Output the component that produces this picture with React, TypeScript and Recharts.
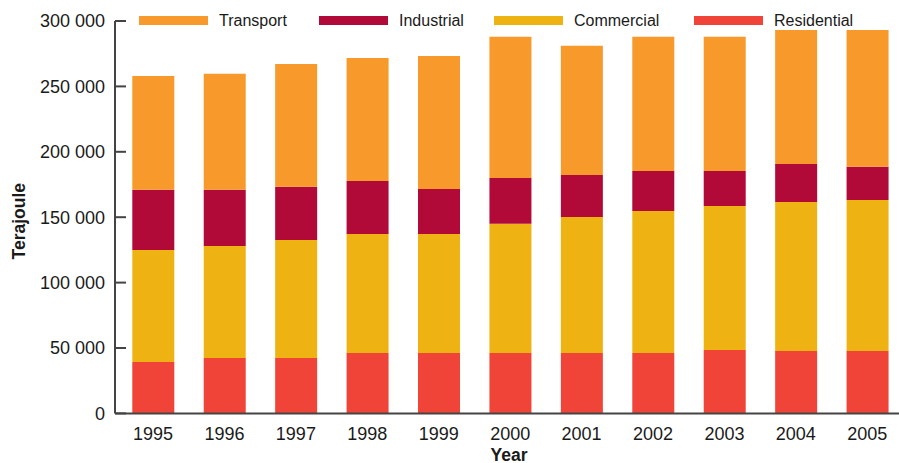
import React from 'react';
import { BarChart, Bar, XAxis, YAxis, Legend, Label } from 'recharts';

const years = ['1995', '1996', '1997', '1998', '1999', '2000', '2001', '2002', '2003', '2004', '2005'];
const residential = [39300, 42400, 42400, 46200, 46200, 46200, 46200, 46200, 48500, 47700, 47700];
const commercial = [85700, 85600, 90200, 91000, 91000, 98700, 104000, 108600, 110100, 114000, 115500];
const industrial = [45900, 42900, 40600, 40500, 34400, 35100, 32100, 30600, 26800, 29000, 25300];
const transport = [87100, 88700, 94000, 94100, 101700, 107900, 98700, 102500, 102500, 102500, 104700];
const yTicks = [0, 50000, 100000, 150000, 200000, 250000, 300000];

const legendOrder = ['Transport', 'Industrial', 'Commercial', 'Residential'];
const colors: Record<string, string> = {
  Transport: '#F7992B',
  Industrial: '#B20A38',
  Commercial: '#EEB313',
  Residential: '#F04438',
};

const data = years.map((year, i) => ({
  year,
  Residential: residential[i],
  Commercial: commercial[i],
  Industrial: industrial[i],
  Transport: transport[i],
}));

const FONT = '"Liberation Sans", Arial, sans-serif';
const TEXT = '#1a1a1a';
const AXIS = '#444';

// 300000 -> "300 000"
const fmt = (v: number) => String(v).replace(/\B(?=(\d{3})+(?!\d))/g, ' ');

const YTick = (props: any) => {
  const { x, y, payload } = props;
  return (
    <g>
      <line x1={x} x2={x + 11} y1={y} y2={y} stroke={AXIS} strokeWidth={2} />
      <text x={x - 10} y={y} dy="0.36em" textAnchor="end" fill={TEXT} fontSize={18} fontFamily={FONT}>
        {fmt(payload.value)}
      </text>
    </g>
  );
};

const XTick = (props: any) => {
  const { x, y, payload } = props;
  return (
    <text x={x} y={y + 26.6} textAnchor="middle" fill={TEXT} fontSize={18} fontFamily={FONT}>
      {payload.value}
    </text>
  );
};

const legendX = [139, 319, 494, 694];

const renderLegend = () => (
  <div style={{ position: 'relative', width: 903, height: 40, fontFamily: FONT }}>
    {legendOrder.map((name, i) => (
      <div
        key={name}
        style={{ position: 'absolute', left: legendX[i], top: 11, height: 19, display: 'flex', alignItems: 'center' }}
      >
        <span style={{ display: 'inline-block', width: 69, height: 9, background: colors[name], marginRight: 11 }} />
        <span style={{ fontSize: 16, color: TEXT, whiteSpace: 'nowrap' }}>{name}</span>
      </div>
    ))}
  </div>
);

const App: React.FC = () => {
  return (
    <div style={{ position: 'fixed', left: 0, top: 0, width: 899, height: 463, overflow: 'hidden', background: '#fff' }}>
      <BarChart
        width={903}
        height={463}
        data={data}
        margin={{ top: 21, right: 0, left: 0, bottom: 20 }}
        barSize={42}
      >
        <XAxis
          dataKey="year"
          interval={0}
          height={29.6}
          padding={{ left: 2.3, right: 0 }}
          axisLine={{ stroke: AXIS, strokeWidth: 2 }}
          tickLine={false}
          tickSize={0}
          tickMargin={0}
          tick={<XTick />}
        >
          <Label
            content={(p: any) => (
              <text
                x={p.viewBox.x + p.viewBox.width / 2}
                y={460.5}
                textAnchor="middle"
                fill={TEXT}
                fontSize={17.5}
                fontWeight="bold"
                fontFamily={FONT}
              >
                Year
              </text>
            )}
          />
        </XAxis>
        <YAxis
          width={115}
          domain={[0, 300000]}
          ticks={yTicks}
          interval={0}
          axisLine={{ stroke: AXIS, strokeWidth: 2 }}
          tickLine={false}
          tickSize={0}
          tickMargin={0}
          tick={<YTick />}
        >
          <Label
            content={(p: any) => (
              <text
                x={19.5}
                y={p.viewBox.y + p.viewBox.height / 2 + 4}
                transform={`rotate(-90, 19.5, ${p.viewBox.y + p.viewBox.height / 2 + 4})`}
                textAnchor="middle"
                dominantBaseline="central"
                fill={TEXT}
                fontSize={17.5}
                fontWeight="bold"
                fontFamily={FONT}
              >
                Terajoule
              </text>
            )}
          />
        </YAxis>
        <Legend
          layout="horizontal"
          verticalAlign="middle"
          align="center"
          wrapperStyle={{ position: 'absolute', top: 0, left: 0, width: 903, height: 40 }}
          content={renderLegend}
        />
        <Bar dataKey="Residential" stackId="a" fill={colors.Residential} isAnimationActive={false} />
        <Bar dataKey="Commercial" stackId="a" fill={colors.Commercial} isAnimationActive={false} />
        <Bar dataKey="Industrial" stackId="a" fill={colors.Industrial} isAnimationActive={false} />
        <Bar dataKey="Transport" stackId="a" fill={colors.Transport} isAnimationActive={false} />
      </BarChart>
    </div>
  );
};

export default App;
